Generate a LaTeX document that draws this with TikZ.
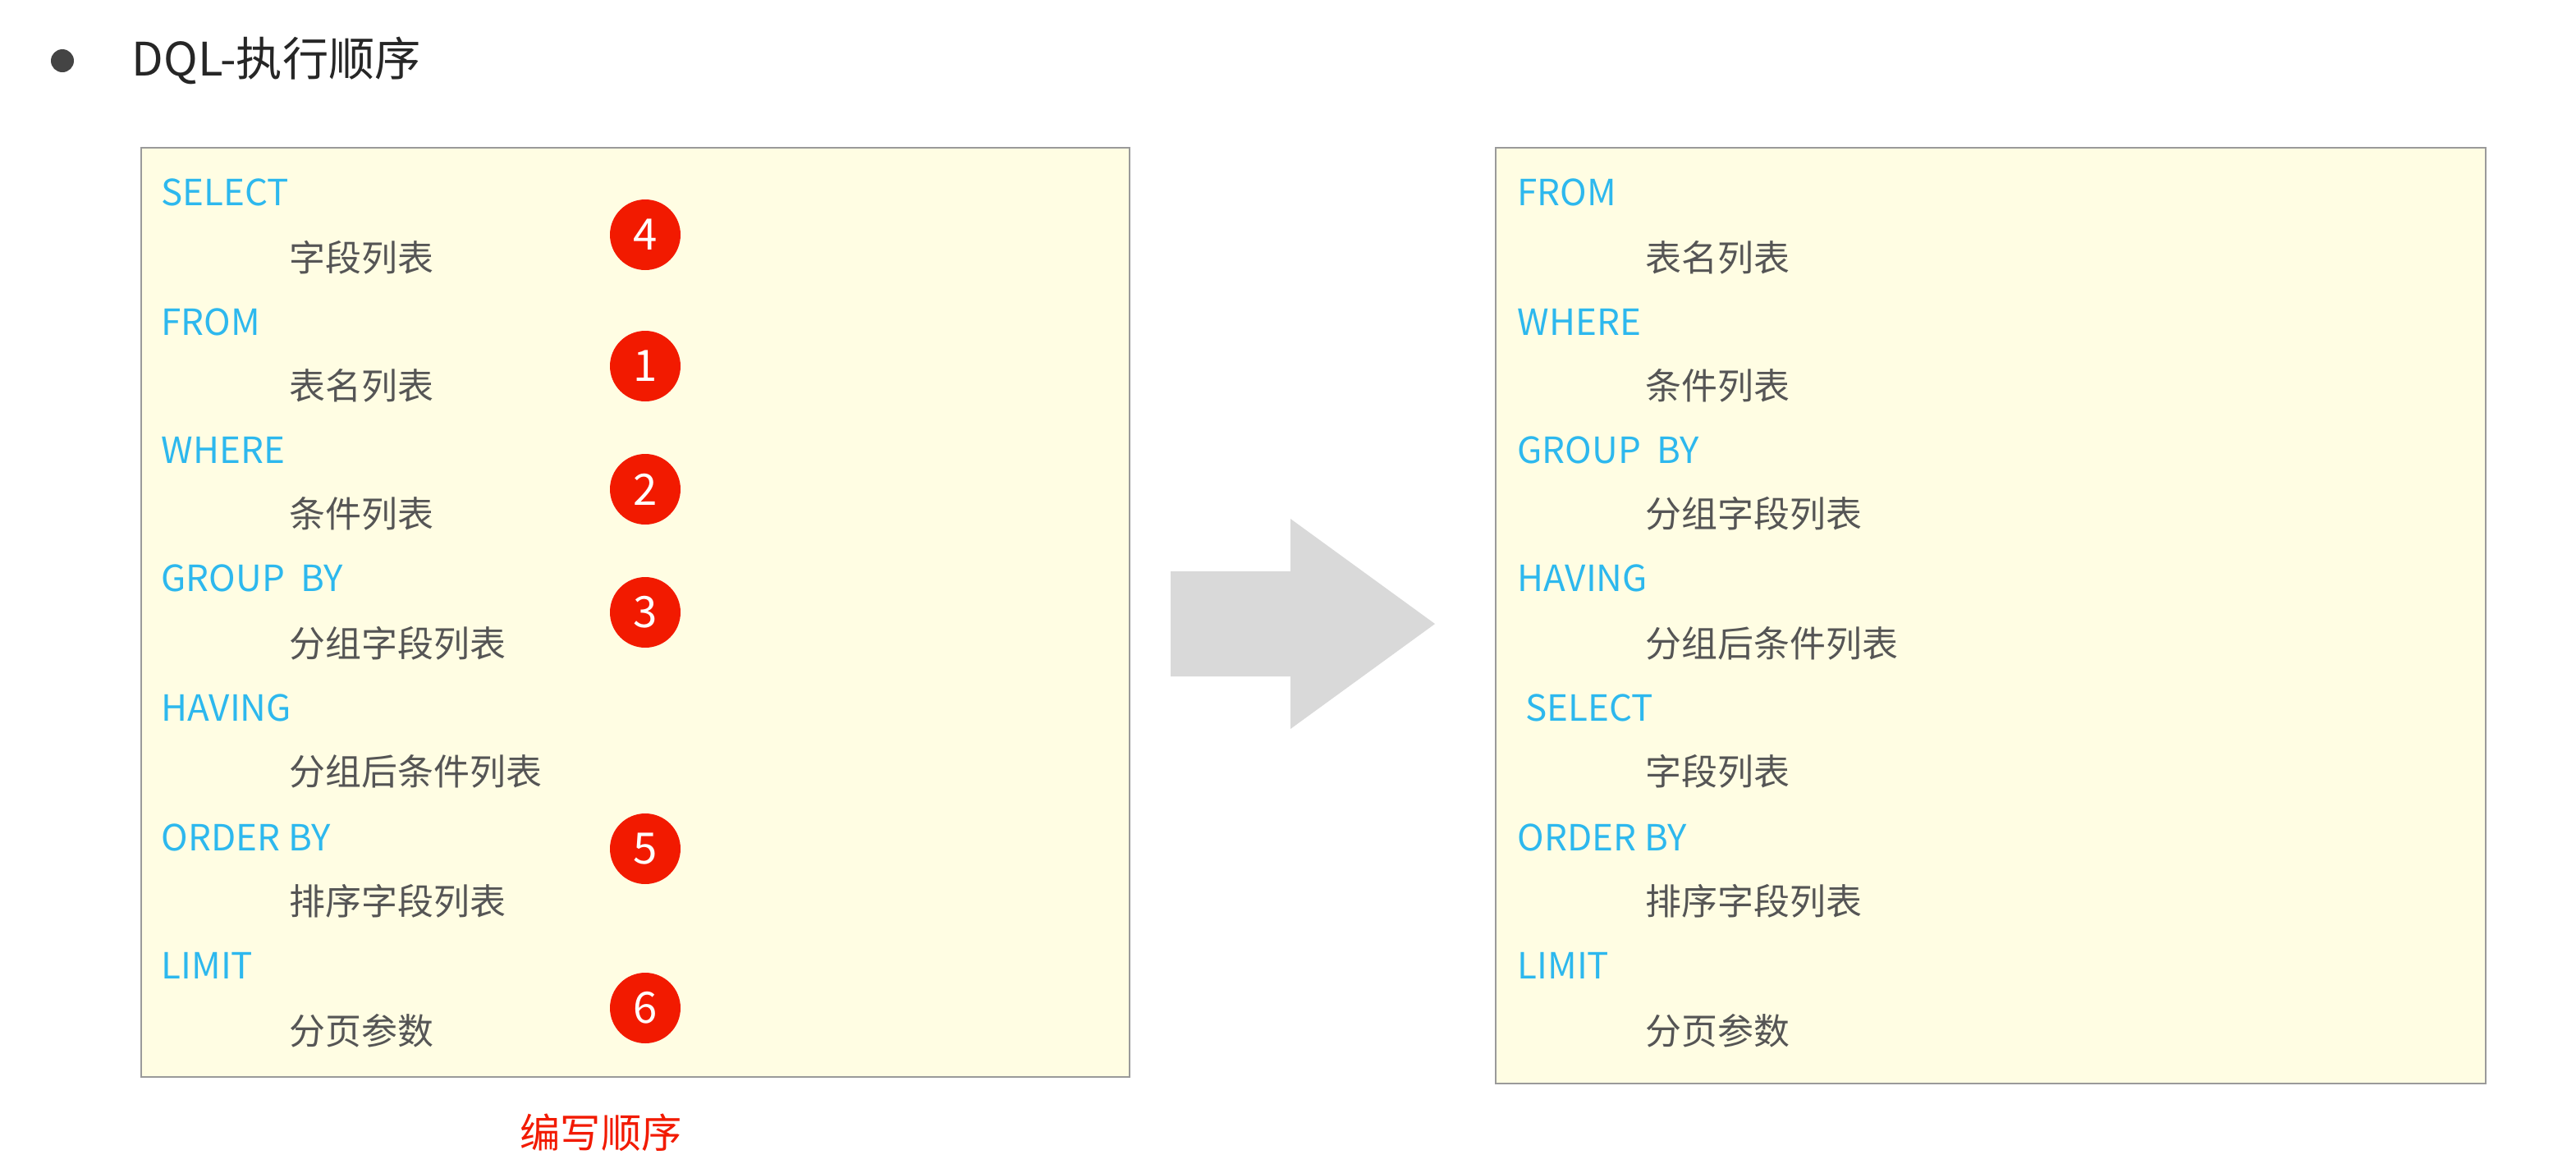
\documentclass[tikz,border=0pt]{standalone}
\usepackage{fontspec}
\setmainfont{Noto Sans CJK SC}
\definecolor{kw}{HTML}{2DB8EE}
\definecolor{cn}{HTML}{555555}
\definecolor{boxfill}{HTML}{FFFDE3}
\definecolor{boxline}{HTML}{9A9A9A}
\definecolor{badge}{HTML}{F21A00}
\definecolor{arrowgray}{HTML}{D9D9D9}
\begin{document}
\begin{tikzpicture}[x=0.02cm,y=-0.02cm,
  kwtext/.style={anchor=west,text=kw,font=\fontsize{12.5}{14}\selectfont,inner sep=0pt},
  cntext/.style={anchor=west,text=cn,font=\fontsize{12.5}{14}\selectfont,inner sep=0pt},
  panel/.style={draw=boxline,fill=boxfill,line width=0.6pt},
  num/.style={circle,fill=badge,text=white,minimum size=0.86cm,inner sep=0pt,font=\fontsize{15}{16}\selectfont}]
\useasboundingbox (0,0) rectangle (1569,714);
\fill[white] (0,0) rectangle (1569,714);
% title
\node[circle,fill=cn!80!black,minimum size=0.28cm,inner sep=0pt] (bul) at (38,37) {};
\node[anchor=west,text=black!85,font=\fontsize{16}{18}\selectfont,inner sep=0pt] (title) at (80,37) {DQL-执行顺序};
% left panel
\draw[panel] (86,90) rectangle (688,656);
\node[kwtext] (l1) at (98,117) {SELECT};
\node[cntext] (l2) at (176,157) {字段列表};
\node[kwtext] (l3) at (98,196) {FROM};
\node[cntext] (l4) at (176,235) {表名列表};
\node[kwtext] (l5) at (98,274) {WHERE};
\node[cntext] (l6) at (176,313) {条件列表};
\node[kwtext] (l7) at (98,352) {GROUP\ \ BY};
\node[cntext] (l8) at (176,392) {分组字段列表};
\node[kwtext] (l9) at (98,431) {HAVING};
\node[cntext] (l10) at (176,470) {分组后条件列表};
\node[kwtext] (l11) at (98,510) {ORDER BY};
\node[cntext] (l12) at (176,549) {排序字段列表};
\node[kwtext] (l13) at (98,588) {LIMIT};
\node[cntext] (l14) at (176,628) {分页参数};
\node[num] (n4) at (393,143) {4};
\node[num] (n1) at (393,223) {1};
\node[num] (n2) at (393,298) {2};
\node[num] (n3) at (393,373) {3};
\node[num] (n5) at (393,517) {5};
\node[num] (n6) at (393,614) {6};
\node[text=badge,font=\fontsize{14}{16}\selectfont] (cap) at (366,690) {编写顺序};
% arrow
\fill[arrowgray] (713,348) -- (786,348) -- (786,316) -- (874,380) -- (786,444) -- (786,412) -- (713,412) -- cycle;
% right panel
\draw[panel] (911,90) rectangle (1514,660);
\node[kwtext] (r1) at (924,117) {FROM};
\node[cntext] (r2) at (1002,157) {表名列表};
\node[kwtext] (r3) at (924,196) {WHERE};
\node[cntext] (r4) at (1002,235) {条件列表};
\node[kwtext] (r5) at (924,274) {GROUP\ \ BY};
\node[cntext] (r6) at (1002,313) {分组字段列表};
\node[kwtext] (r7) at (924,352) {HAVING};
\node[cntext] (r8) at (1002,392) {分组后条件列表};
\node[kwtext] (r9) at (929,431) {SELECT};
\node[cntext] (r10) at (1002,470) {字段列表};
\node[kwtext] (r11) at (924,510) {ORDER BY};
\node[cntext] (r12) at (1002,549) {排序字段列表};
\node[kwtext] (r13) at (924,588) {LIMIT};
\node[cntext] (r14) at (1002,628) {分页参数};
\end{tikzpicture}
\end{document}
